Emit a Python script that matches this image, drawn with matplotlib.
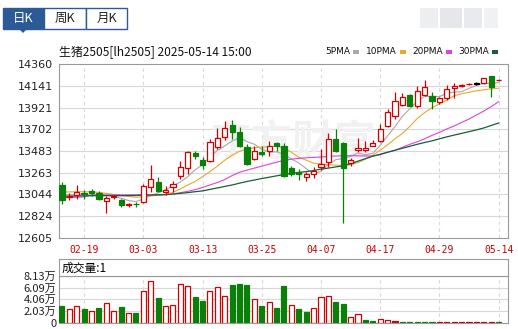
import numpy as np
import matplotlib
matplotlib.use("Agg")
import matplotlib.pyplot as plt
from matplotlib.patches import Rectangle, Polygon

plt.rcParams['font.family'] = ['Noto Sans CJK SC', 'DejaVu Sans']

# ---- data (lh2505 daily, 2025-02-14 .. 2025-05-14) ----
opens = [13140, 13020, 13040, 13060, 13082, 13060, 12976, 13020, 12990, 12937,
         12950, 12965, 13117, 13167, 13066, 13117, 13234, 13308, 13460, 13392,
         13379, 13520, 13621, 13745, 13672, 13520, 13402, 13470, 13480, 13560,
         13530, 13311, 13268, 13218, 13251, 13324, 13369, 13604, 13564, 13362,
         13496, 13496, 13537, 13587, 13732, 13839, 13950, 14048, 13940, 14048,
         14041, 13974, 14015, 14115, 14142, 14155, 14162, 14166, 14236, 14196]
highs = [13173, 13060, 13143, 13090, 13095, 13080, 13032, 13040, 13000, 12960,
         12965, 13150, 13340, 13224, 13130, 13184, 13385, 13486, 13486, 13419,
         13604, 13715, 13789, 13799, 13722, 13550, 13530, 13537, 13587, 13570,
         13560, 13328, 13301, 13274, 13318, 13503, 13664, 13705, 13577, 13412,
         13611, 13588, 13597, 13755, 13907, 14075, 14068, 14058, 14142, 14202,
         14075, 14025, 14149, 14169, 14160, 14168, 14175, 14220, 14243, 14208]
lows = [12948, 12990, 12995, 13000, 13030, 12990, 12854, 13000, 12920, 12920,
        12920, 12955, 13066, 13066, 13040, 13072, 13200, 13251, 13402, 13301,
        13369, 13500, 13597, 13604, 13520, 13342, 13392, 13436, 13436, 13486,
        13218, 13228, 13193, 13183, 13210, 13291, 13318, 13470, 12753, 13335,
        13476, 13476, 13530, 13577, 13722, 13806, 13940, 13933, 13917, 14035,
        13907, 13960, 14000, 14015, 14130, 14150, 14150, 14160, 14025, 14190]
closes = [12992, 13030, 13066, 13050, 13058, 12998, 13006, 13025, 12938, 12950,
          12945, 13133, 13200, 13083, 13092, 13150, 13318, 13476, 13430, 13345,
          13571, 13611, 13715, 13672, 13530, 13352, 13486, 13453, 13537, 13537,
          13234, 13251, 13251, 13251, 13284, 13352, 13604, 13486, 13308, 13395,
          13517, 13517, 13560, 13705, 13879, 13990, 14025, 13940, 14085, 14126,
          13990, 14015, 14108, 14142, 14149, 14160, 14162, 14216, 14125, 14202]

# volume in 万 and its colour (r = up, g = down vs previous close)
volume = [2.91, 2.38, 2.91, 2.38, 2.03, 2.62, 3.37, 2.03, 2.73, 1.69,
          1.69, 5.52, 7.27, 4.30, 2.91, 3.08, 6.69, 6.40, 4.48, 3.78,
          5.52, 6.22, 4.65, 6.57, 6.74, 6.57, 4.13, 2.91, 3.55, 2.62,
          6.40, 3.08, 2.38, 1.86, 2.56, 4.48, 4.65, 3.60, 3.26, 0.99,
          1.45, 0.47, 0.29, 0.64, 0.47, 0.29, 0.12, 0.10, 0.10, 0.10,
          0.10, 0.10, 0.10, 0.10, 0.10, 0.10, 0.10, 0.10, 0.10, 0.10]
vol_dir = "grrgrgrrgrgrrgrrrrggrrrgggrgrggrggrrrggrrggrrrgggggrrrrrrrrg"

ma5 = [13040, 13040, 13040, 13040, 13039, 13040, 13036, 13027, 13005, 12983,
       12973, 12998, 13033, 13062, 13091, 13132, 13169, 13224, 13293, 13344,
       13428, 13487, 13534, 13583, 13620, 13576, 13551, 13499, 13472, 13473,
       13449, 13402, 13362, 13305, 13254, 13278, 13348, 13395, 13407, 13429,
       13462, 13445, 13459, 13539, 13636, 13730, 13832, 13908, 13984, 14033,
       14033, 14031, 14065, 14076, 14081, 14115, 14144, 14166, 14162, 14173]
ma10 = [13068, 13070, 13072, 13072, 13070, 13065, 13055, 13045, 13035, 13025,
        13015, 13020, 13030, 13035, 13045, 13065, 13100, 13140, 13175, 13225,
        13275, 13330, 13390, 13440, 13480, 13503, 13515, 13522, 13526, 13533,
        13510, 13470, 13420, 13390, 13360, 13350, 13345, 13340, 13335, 13345,
        13365, 13400, 13440, 13490, 13545, 13605, 13660, 13730, 13810, 13870,
        13920, 13957, 13995, 14040, 14060, 14075, 14090, 14100, 14110, 14116]
ma20 = [13012, 13013, 13015, 13020, 13038, 13040, 13040, 13040, 13040, 13040,
        13040, 13041, 13042, 13042, 13043, 13050, 13062, 13076, 13092, 13115,
        13140, 13165, 13195, 13235, 13268, 13290, 13310, 13330, 13350, 13370,
        13388, 13400, 13408, 13414, 13418, 13422, 13428, 13432, 13435, 13435,
        13434, 13432, 13432, 13445, 13470, 13490, 13520, 13550, 13575, 13605,
        13640, 13670, 13705, 13735, 13770, 13805, 13845, 13885, 13930, 13980]
ma30 = [13025, 13027, 13029, 13030, 13031, 13032, 13032, 13032, 13032, 13033,
        13034, 13036, 13038, 13040, 13042, 13048, 13055, 13063, 13072, 13080,
        13095, 13110, 13125, 13140, 13158, 13175, 13190, 13205, 13218, 13232,
        13245, 13258, 13266, 13275, 13285, 13300, 13310, 13322, 13333, 13355,
        13380, 13405, 13430, 13450, 13470, 13490, 13510, 13530, 13550, 13568,
        13585, 13605, 13625, 13643, 13660, 13678, 13695, 13715, 13740, 13765]

price_ticks = [12605, 12824, 13044, 13263, 13483, 13702, 13921, 14141, 14360]
vol_ticks = [0, 2.03, 4.06, 6.09, 8.13]
vol_tick_labels = ["0", "2.03万", "4.06万", "6.09万", "8.13万"]
date_ticks = [3, 11, 19, 27, 35, 43, 51, 59]
date_labels = ["02-19", "03-03", "03-13", "03-25", "04-07", "04-17", "04-29", "05-14"]

RED = '#d40000'
GREEN = '#0a800a'
GRID = '#d8d8d8'
BORDER = '#9a9a9a'

W, H = 518, 329
fig = plt.figure(figsize=(W / 100, H / 100), dpi=100)


def rect(l, t, r, b):
    return [l / W, 1 - b / H, (r - l) / W, (b - t) / H]


def fx(x):
    return x / W


def fy(y):
    return 1 - y / H


x = np.arange(len(closes))
xlim = (-0.4, 60.27)

# ---- main candlestick panel ----
ax = fig.add_axes(rect(59, 64, 508, 238))
ax.set_xlim(*xlim)
ax.set_ylim(price_ticks[0], price_ticks[-1])
ax.set_yticks(price_ticks)
ax.set_yticklabels([str(v) for v in price_ticks], fontsize=8, color='#222222',
                   family='DejaVu Sans')
ax.set_xticks(date_ticks)
ax.set_xticklabels(date_labels, fontsize=7, color='#cc0000', family='DejaVu Sans Mono')
ax.tick_params(length=0, pad=4)
ax.tick_params(axis='x', pad=5)
for v in price_ticks[1:-1]:
    ax.axhline(v, color=GRID, lw=0.8, zorder=0)
for t in date_ticks:
    ax.axvline(t, color=GRID, lw=0.8, ls=(0, (3, 3)), zorder=0)
for s in ax.spines.values():
    s.set_color(BORDER)

ax.text(0.52, 0.55, "东方财富", transform=ax.transAxes, fontsize=30, color='#f1f1f1',
        ha='center', va='center', fontweight='bold', style='italic', zorder=0)

ax.plot(x, ma5, color='#a8a8a8', lw=0.8, zorder=2)
ax.plot(x, ma10, color='#e8a830', lw=0.8, zorder=2)
ax.plot(x, ma20, color='#e040e0', lw=0.8, zorder=2)
ax.plot(x, ma30, color='#14603a', lw=0.9, zorder=2)

for i in range(len(closes)):
    o, h, l, c = opens[i], highs[i], lows[i], closes[i]
    if c > o:
        col, face = RED, 'white'
    elif c < o:
        col, face = GREEN, GREEN
    else:
        col, face = 'black', 'black'
    lo, hi = min(o, c), max(o, c)
    ax.vlines(i, hi, h, color=col, lw=0.9, zorder=3)
    ax.vlines(i, l, lo, color=col, lw=0.9, zorder=3)
    body = max(hi - lo, 6)
    ax.add_patch(Rectangle((i - 0.36, lo), 0.72, body, facecolor=face,
                           edgecolor=col, lw=0.9, zorder=4))

# ---- volume panel ----
vax = fig.add_axes(rect(59, 276, 508, 322.7))
vax.set_xlim(*xlim)
vax.set_ylim(0, 8.13)
vax.set_yticks(vol_ticks)
vax.set_yticklabels(vol_tick_labels, fontsize=8, color='#222222')
vax.set_xticks([])
vax.tick_params(length=0, pad=2)
for v in vol_ticks[1:-1]:
    vax.axhline(v, color=GRID, lw=0.8, zorder=0)
for t in date_ticks:
    vax.axvline(t, color=GRID, lw=0.8, ls=(0, (3, 3)), zorder=0)
for s in vax.spines.values():
    s.set_color(BORDER)
for i, v in enumerate(volume):
    if vol_dir[i] == 'r':
        vax.bar(i, v, width=0.68, facecolor='white' if v > 0.3 else RED,
                edgecolor=RED, lw=0.9, zorder=3)
    else:
        vax.bar(i, v, width=0.68, facecolor=GREEN, edgecolor=GREEN, lw=0.9, zorder=3)

# header box of volume panel
hax = fig.add_axes(rect(59, 259, 508, 276))
hax.set_xticks([])
hax.set_yticks([])
for s in hax.spines.values():
    s.set_color(BORDER)
hax.text(0.005, 0.45, "成交量:1", transform=hax.transAxes, fontsize=8.5,
         va='center', ha='left', color='black')

# ---- title line and legend ----
fig.text(fx(59), fy(52), "生猪2505[lh2505] 2025-05-14 15:00", fontsize=8.6,
         va='center', ha='left', color='#111111')
legend = [("5PMA", 325, '#a8a8a8'), ("10PMA", 366, '#e8a830'),
          ("20PMA", 412, '#e040e0'), ("30PMA", 458, '#14603a')]
for name, lx, col in legend:
    t = fig.text(fx(lx), fy(52), name, fontsize=6.5, va='center', ha='left',
                 color='#111111', family='DejaVu Sans')
    fig.canvas.draw()
    bb = t.get_window_extent()
    fig.patches.append(Rectangle((fx(bb.x1 + 3), fy(53.5)), 6 / W, 3 / H,
                                 transform=fig.transFigure, facecolor=col,
                                 edgecolor='none'))

# ---- period tabs ----
tabs = [("日K", 3, 44, True), ("周K", 44, 86, False), ("月K", 86, 127, False)]
for name, l, r, sel in tabs:
    fig.patches.append(Rectangle((fx(l), fy(29)), (r - l) / W, 21 / H,
                                 transform=fig.transFigure,
                                 facecolor='#2c5a96' if sel else 'white',
                                 edgecolor='#2c5a96', lw=1))
    fig.text(fx((l + r) / 2), fy(18.5), name, fontsize=9, ha='center', va='center',
             color='white' if sel else '#222222')
fig.patches.append(Polygon([(fx(19), fy(29)), (fx(27), fy(29)), (fx(23), fy(33))],
                           closed=True, transform=fig.transFigure,
                           facecolor='#2c5a96', edgecolor='none'))

# blurred logo at top right
for bx, bw, a in [(420, 18, 0.25), (440, 22, 0.35), (464, 18, 0.3), (484, 14, 0.2)]:
    fig.patches.append(Rectangle((fx(bx), fy(28)), bw / W, 20 / H,
                                 transform=fig.transFigure, facecolor='#b8bcc4',
                                 edgecolor='none', alpha=a))

fig.savefig("out.png", dpi=100)
